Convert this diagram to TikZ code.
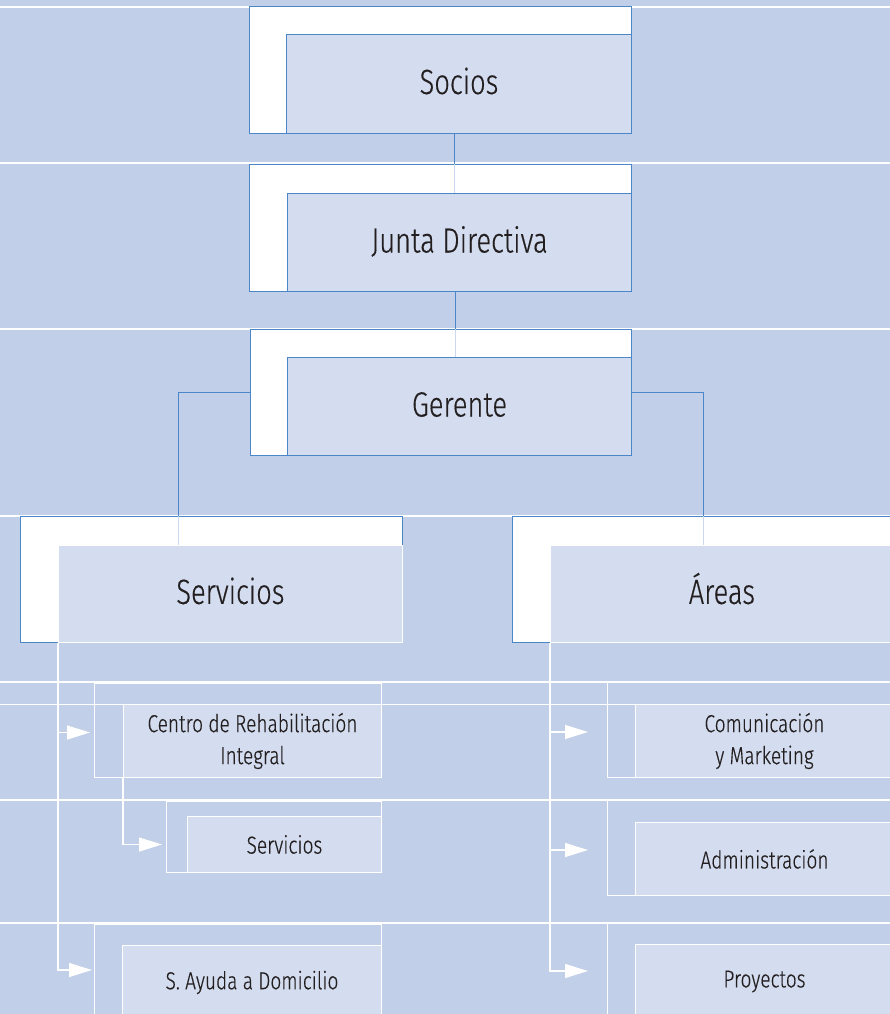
\documentclass[tikz,border=0pt]{standalone}
\usepackage{fontspec}
\setmainfont{Fira Sans Light}[FakeStretch=0.78, FakeBold=0.4]
\usetikzlibrary{arrows.meta}
\definecolor{bandbg}{HTML}{C1CFE8}
\definecolor{boxfill}{HTML}{D4DDF0}
\definecolor{boxline}{HTML}{4A86C8}
\definecolor{paleline}{HTML}{CAD7EE}
\definecolor{labeltext}{HTML}{231F20}

\begin{document}
\begin{tikzpicture}[x=1pt, y=-1pt,
  band/.style={white, line width=1.6pt},
  thinband/.style={white, line width=1pt},
  outerbox/.style={draw=boxline, fill=white, line width=1pt, anchor=north west, inner sep=0pt},
  innerbox/.style={draw=boxline, fill=boxfill, line width=1pt, anchor=north west, inner sep=0pt,
    text=labeltext, text height=27pt, text depth=7pt, font=\fontsize{35}{40}\selectfont},
  areabox/.style={innerbox, draw=white, line width=0.8pt},
  subouter/.style={draw=white, line width=1pt, anchor=north west, inner sep=0pt},
  subinner/.style={draw=white, fill=boxfill, line width=1pt, anchor=north west, inner sep=0pt,
    text=labeltext, align=center, font=\fontsize{24.5}{32}\selectfont},
  link/.style={boxline, line width=1pt},
  pale/.style={paleline, line width=1pt},
  feed/.style={white, line width=1.2pt, -{Triangle[length=23pt, width=14pt]}}]

  % background and bands
  \fill[bandbg] (0,0) rectangle (890,1014);
  \useasboundingbox (0,0) rectangle (890,1014);
  \clip (0,0) rectangle (890,1014);
  \draw[band] (0,7) -- (890,7);
  \draw[band] (0,163) -- (890,163);
  \draw[band] (0,329) -- (890,329);
  \draw[band] (0,516) -- (890,516);
  \draw[band] (0,682) -- (890,682);
  \draw[thinband] (0,704) -- (890,704);
  \draw[band] (0,800) -- (890,800);
  \draw[band] (0,923) -- (890,923);

  % top of the chart
  \node[outerbox, minimum width=382, minimum height=127] (socios-o) at (249,6) {};
  \node[innerbox, minimum width=345, minimum height=99] (socios-i) at (286,34) {Socios};
  \node[outerbox, minimum width=382, minimum height=127] (junta-o) at (249,164) {};
  \node[innerbox, minimum width=344, minimum height=98] (junta-i) at (287,193) {Junta Directiva};
  \node[outerbox, minimum width=381, minimum height=126] (ger-o) at (250,329) {};
  \node[innerbox, minimum width=344, minimum height=98] (ger-i) at (287,357) {Gerente};

  \node[outerbox, minimum width=382, minimum height=126] (serv-o) at (20,516) {};
  \node[areabox, minimum width=344, minimum height=97] (serv-i) at (58,545) {Servicios};
  \node[outerbox, minimum width=381, minimum height=126] (areas-o) at (512,516) {};
  \node[areabox, minimum width=343, minimum height=97] (areas-i) at (550,545) {Áreas};

  % connectors between levels
  \draw[link] ([xshift=-5pt]socios-i.south) coordinate (s1) -- (s1 |- junta-o.north);
  \draw[pale] (s1 |- junta-o.north) -- (s1 |- junta-i.north);
  \draw[link] ([xshift=-4pt]junta-i.south) coordinate (j1) -- (j1 |- ger-o.north);
  \draw[pale] (j1 |- ger-o.north) -- (j1 |- ger-i.north);
  \draw[link] (ger-o.west) -| ([xshift=-33pt]serv-o.north) coordinate (g1);
  \draw[pale] (g1) -- (g1 |- serv-i.north);
  \draw[link] (ger-o.east) -| (areas-o.north);
  \draw[pale] (areas-o.north) -- (areas-o.north |- areas-i.north);

  % Servicios branch
  \node[subouter, minimum width=287, minimum height=94] (centro-o) at (94,683) {};
  \node[subinner, minimum width=258, minimum height=73] (centro-i) at (123,704) {Centro de Rehabilitación\\Integral};
  \node[subouter, minimum width=215, minimum height=71] (subserv-o) at (166,801) {};
  \node[subinner, minimum width=194, minimum height=56] (subserv-i) at (187,816) {Servicios};
  \node[subouter, minimum width=287, minimum height=100] (ayuda-o) at (94,924) {};
  \node[subinner, minimum width=259, minimum height=74] (ayuda-i) at (122,945) {S. Ayuda a Domicilio};

  \draw[feed] (serv-i.south west) |- ([xshift=-4pt,yshift=-2pt]centro-o.west);
  \draw[feed] (serv-i.south west) |- ([xshift=-2pt]ayuda-o.west |- 0,970);
  \draw[feed] (centro-i.south west) |- ([xshift=-4pt]subserv-o.west |- subserv-i.west);

  % Areas branch
  \node[subouter, minimum width=290, minimum height=95] (comun-o) at (607,682) {};
  \node[subinner, minimum width=258, minimum height=73] (comun-i) at (635,704) {Comunicación\\y Marketing};
  \node[subouter, minimum width=290, minimum height=95] (admin-o) at (607,800) {};
  \node[subinner, minimum width=258, minimum height=73] (admin-i) at (635,822) {Administración};
  \node[subouter, minimum width=290, minimum height=100] (proy-o) at (607,923) {};
  \node[subinner, minimum width=258, minimum height=74] (proy-i) at (635,944) {Proyectos};

  \draw[feed] (areas-i.south west) |- ([xshift=-19pt,yshift=-2pt]comun-o.west);
  \draw[feed] (areas-i.south west) |- ([xshift=-19pt,yshift=-2pt]admin-o.west);
  \draw[feed] (areas-i.south west) |- ([xshift=-19pt]proy-o.west |- 0,971);
\end{tikzpicture}
\end{document}
